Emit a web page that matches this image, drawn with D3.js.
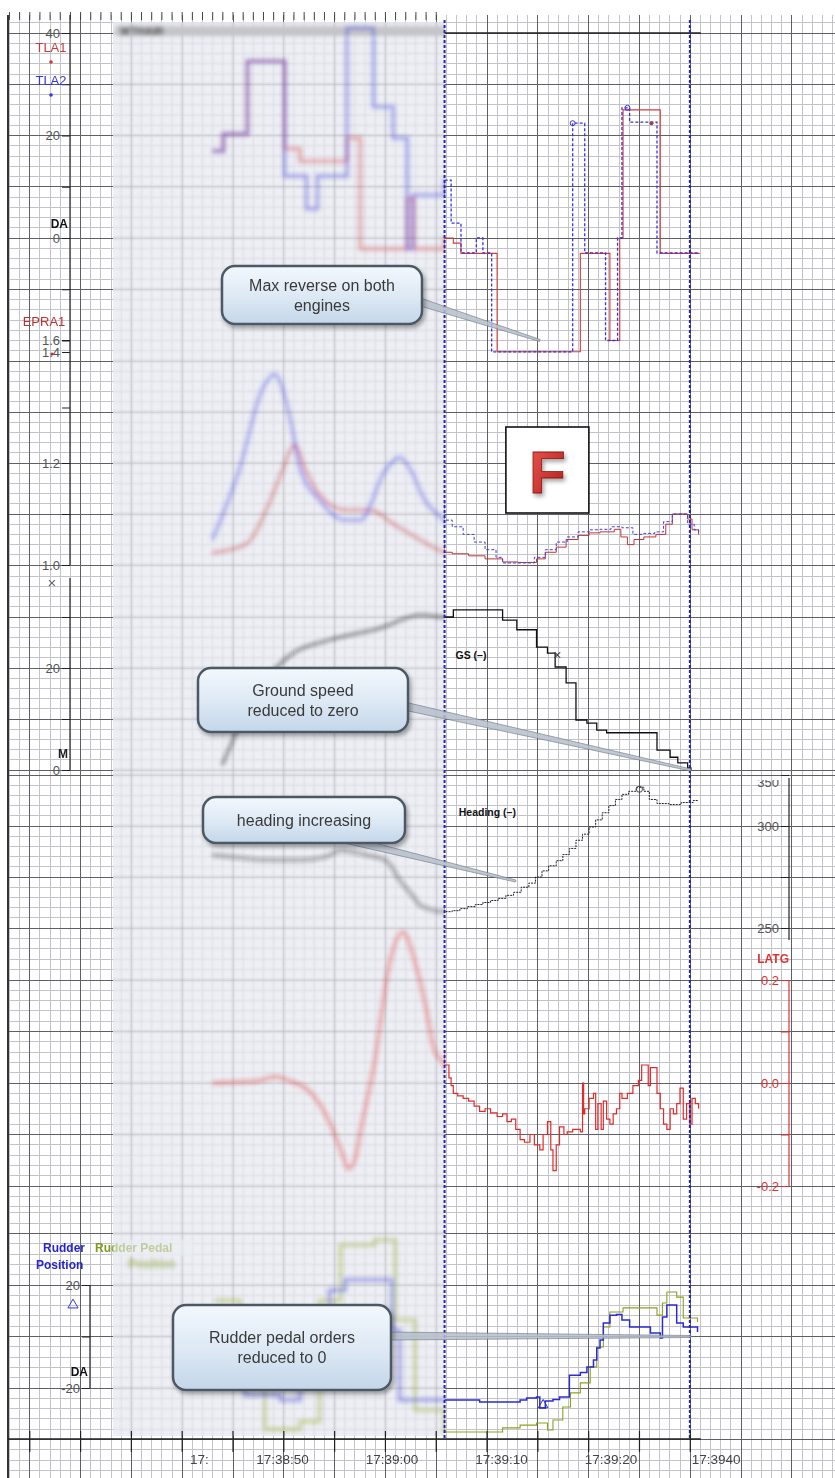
<!DOCTYPE html>
<html>
<head>
<meta charset="utf-8">
<script src="https://cdn.jsdelivr.net/npm/d3@7/dist/d3.min.js"></script>
<style>
  body { margin: 0; background: #fff; }
  svg text { font-family: 'Liberation Sans', Arial, sans-serif; }
</style>
</head>
<body>
<div id="chart"></div>
<script>
// time = seconds after 17:38:40
const timeTicks = [2.4, 10, 20, 30, 40, 49.6];
const timeLabels = ['17:', '17:38:50', '17:39:00', '17:39:10', '17:39:20', '17:3940'];
const cursorTimes = [24.8, 47.2];

// throttle lever angles (deg)
const tla1 = [[3.6,17],[4.6,20.3],[6.8,34.5],[10.2,17.4],[11.6,15],[15.9,19.5],[17.1,-2.1],[21.4,7.6],[22.0,-2.1],
  [24.8,0],[25.6,-1],[26.3,-3],[29.6,-22.2],[37.2,-3],[39.9,-20],[40.8,0],[41.1,25],[44.5,-3],[48.1,-3]];
const tla2 = [[3.6,17],[4.6,20.3],[6.8,34.5],[10.2,12.1],[12.2,5.7],[13.2,12.1],[15.9,41],[18.3,25.6],[20.1,19.5],
  [21.4,-2.1],[21.9,8.4],[24.8,11.3],[25.4,2.9],[26.3,-2.9],[27.7,0],[28.3,-2.9],[29.1,-22.2],[36.5,22.4],
  [37.6,-2.9],[39.5,-20],[40.6,0],[41.0,25.4],[41.7,22.6],[44.2,-2.9],[48.1,-2.9]];

// engine pressure ratios
const epr1 = [[3.6,1.024],[6.6,1.04],[8.9,1.127],[10,1.186],[11.1,1.232],[12.1,1.186],[13.4,1.137],[15.7,1.108],
  [18,1.108],[20.3,1.078],[22.6,1.049],[24.8,1.025],[25.5,1.022],[27,1.018],[28.5,1.012],[30.1,1.006],[31.5,1.005],
  [33.2,1.012],[34,1.025],[35,1.035],[35.9,1.05],[37,1.058],[38,1.063],[39,1.065],[40.3,1.07],[40.9,1.055],
  [41.5,1.04],[42.1,1.05],[43,1.055],[44.1,1.06],[45,1.08],[45.6,1.10],[46.2,1.10],[47,1.09],[47.4,1.069],[48,1.06]];
const epr2 = [[3.6,1.05],[6.1,1.19],[8.1,1.33],[9.3,1.36],[10.7,1.28],[11.6,1.19],[13.4,1.127],[15.7,1.088],
  [17.1,1.088],[19.4,1.186],[20.7,1.21],[21.6,1.19],[23,1.127],[24.8,1.088],[25.5,1.075],[26.5,1.06],[27.5,1.045],
  [28.5,1.03],[29.5,1.015],[30.1,1.004],[32,1.004],[33,1.015],[34,1.03],[35,1.045],[36,1.055],[37,1.065],
  [38,1.069],[39,1.07],[40,1.075],[41,1.073],[42,1.06],[43,1.062],[44,1.065],[44.8,1.085],[45.6,1.10],
  [46.2,1.10],[47,1.08],[47.6,1.069],[48,1.06]];

// ground speed (kt)
const groundSpeed = [[4.5,1],[5.5,6],[7,13.7],[8.4,17.6],[10.7,22.5],[14.3,25.5],[18.9,27.8],[22.6,30.4],[24.8,30],
  [25.6,31.4],[30.1,29.4],[31.4,27.5],[33.2,24.1],[34.2,22.9],[34.9,20.2],[35.9,17.1],[36.8,9.8],[37.8,9.2],
  [38.7,7.8],[39.6,7.3],[44.2,3.9],[45.4,2.5],[46.1,1.4],[47,0.4],[47.3,0]];

// heading (deg)
const heading = [[3.6,285.8],[6,284.5],[8,283.5],[11.6,283.3],[14,285],[15.3,288],[17.5,286],[19.5,283],
  [20.7,273.5],[22,265],[22.6,261],[24.8,258],[25.5,258.5],[26.2,259.5],[26.9,260.5],[27.6,261.5],[28.3,262.5],
  [29,263.5],[29.7,264.5],[30.4,266],[31.1,267.5],[31.8,270],[32.5,272],[33.1,275],[33.7,278],[34.3,280.5],
  [35,283],[35.6,286],[36.2,289],[36.8,293],[37.4,296],[38,299.5],[38.6,303],[39.2,306.5],[39.8,310],[40.4,313],
  [41,315.5],[41.6,317],[42.3,319],[43,317],[43.5,313],[44.2,311],[45.3,310.5],[46.4,311.5],[47.5,312.5],[48,312.5]];

// lateral acceleration (g)
const latg = [[3.6,0],[6,0.002],[8,0.005],[9.3,0.012],[10.7,0.004],[12.5,-0.017],[14.3,-0.076],[15.5,-0.14],
  [16,-0.167],[16.6,-0.15],[17.1,-0.095],[18.4,0.04],[19.8,0.235],[21,0.293],[22.1,0.235],[23,0.157],[23.9,0.062],
  [24.8,0.035],[25.2,0.01],[25.4,-0.005],[25.6,-0.02],[26.0,-0.025],[26.5,-0.03],[27.0,-0.035],[27.5,-0.045],
  [28,-0.055],[28.5,-0.05],[29,-0.058],[29.6,-0.065],[30.1,-0.06],[30.5,-0.075],[30.9,-0.07],[31.3,-0.09],
  [31.7,-0.11],[32.1,-0.115],[32.6,-0.1],[33,-0.12],[33.5,-0.13],[33.8,-0.1],[34.2,-0.075],[34.5,-0.13],
  [34.7,-0.17],[35,-0.12],[35.3,-0.085],[35.7,-0.1],[36,-0.095],[36.5,-0.09],[37.2,-0.095],[37.4,0.0],
  [37.5,-0.06],[37.6,-0.05],[38.0,-0.03],[38.4,-0.02],[38.6,-0.09],[38.8,-0.04],[39.1,-0.09],[39.3,-0.035],
  [39.6,-0.07],[39.9,-0.08],[40.2,-0.06],[40.5,-0.05],[40.8,-0.02],[41,-0.03],[41.5,-0.02],[42,-0.005],
  [42.5,0.005],[42.8,0.035],[43.1,0.035],[43.4,-0.005],[43.6,0.03],[43.9,0.03],[44.2,-0.02],[44.5,-0.05],
  [44.8,-0.08],[45.1,-0.09],[45.4,-0.05],[45.7,-0.06],[46,-0.04],[46.3,-0.01],[46.6,-0.07],[46.9,-0.04],
  [47.2,-0.08],[47.4,-0.03],[47.7,-0.04],[48,-0.05]];

// rudder (deg)
const rudderPos = [[3.8,-1.4],[6.6,-22.7],[9.8,-24.7],[11.6,-1.4],[14.3,18],[15.7,22],[18.9,22],[20,2.5],
  [20.7,-24.7],[24.8,-24.7],[28,-25.4],[31.7,-24.7],[32.3,-23.9],[33.2,-23.5],[33.5,-27.8],[34,-25],[34.7,-24.5],
  [35.3,-23.5],[36.2,-15],[37.2,-14],[37.8,-11.8],[38.4,-9.1],[38.7,-4.5],[39,-1.4],[39.3,5.2],[39.9,8.3],
  [40.5,8.5],[41,6.4],[41.7,3.7],[43.6,1.4],[44.5,-0.6],[44.7,7.6],[45.1,12.2],[46,5.2],[46.6,3.7],[47.9,1.7]];
const rudderPedal = [[3.8,14],[6.1,-20],[8.4,-36],[11.6,-33],[13.4,14],[15.3,35.5],[18.4,37.5],[20.3,6.4],
  [22.1,-28.5],[24.8,-37.1],[29.6,-37.1],[30.1,-35.5],[31.7,-34.4],[33.2,-33.6],[34.2,-36.3],[34.7,-32.4],
  [35.6,-27.4],[36.3,-21.9],[37.2,-18],[38.1,-11.8],[38.7,-4.1],[39.3,3.7],[39.9,9.5],[41.1,11.1],[42.6,11.1],
  [44.2,8.3],[44.7,13],[45.1,17.3],[46,15.3],[46.6,7.2],[47.9,5.6]];

const tlaTicks = [-20, -10, 0, 10, 20, 30, 40], tlaLabels = [0, 20, 40];
const eprTicks = [1.0, 1.1, 1.2, 1.3, 1.4, 1.6], eprLabels = [1.0, 1.2, 1.4, 1.6];
const gsTicks = [0, 10, 20, 30], gsLabels = [0, 20];
const hdgTicks = [250, 275, 300, 325], hdgLabels = [250, 300];
const latgTicks = [-0.2, -0.1, 0, 0.1, 0.2], latgLabels = [-0.2, 0, 0.2];
const rudTicks = [-20, 0, 20], rudLabels = [-20, 20];

const W = 835, H = 1478;
const x = d3.scaleLinear().domain([0, 50]).range([173, 720.5]);
const yTla = d3.scaleLinear().domain([0, 40]).range([238, 33]);
const yEpr = d3.scaleLinear().domain([1.0, 1.2, 1.4, 1.6]).range([565, 463, 352, 340]);
const yEprGrid = d3.scaleLinear().domain([1.0, 1.2]).range([565, 463]);
const yGs = d3.scaleLinear().domain([0, 20]).range([770, 668]);
const yHdg = d3.scaleLinear().domain([250, 300]).range([928, 826]);
const yLatg = d3.scaleLinear().domain([-0.2, 0.2]).range([1186, 980]);
const yRud = d3.scaleLinear().domain([-20, 20]).range([1388, 1285]);

const gridAnchor = 28.68, gridMinor = 0.928;
const gridBands = [
  { scale: yTla, top: 15, bottom: 340, minor: 2 },
  { scale: yEprGrid, top: 340, bottom: 575, minor: 0.02 },
  { scale: yGs, top: 575, bottom: 775, minor: 2 },
  { scale: yHdg, top: 775, bottom: 955, minor: 5 },
  { scale: yLatg, top: 955, bottom: 1210, minor: 0.02 },
  { scale: yRud, top: 1210, bottom: H, minor: 4 },
];
const oldRegion = { left: 113, top: 22, bottom: 1436 };
const axisY = 1439;

// plain hyphen for negatives, like the recorder printout
const hyphen = f => v => (v < 0 ? '-' : '') + f(Math.abs(v));

const svg = d3.select('#chart').append('svg').attr('width', W).attr('height', H);
const defs = svg.append('defs');
defs.append('filter').attr('id', 'blur').attr('x', '-10%').attr('y', '-10%').attr('width', '120%').attr('height', '120%')
  .append('feGaussianBlur').attr('stdDeviation', 1.9);
defs.append('filter').attr('id', 'blurSoft')
  .append('feGaussianBlur').attr('stdDeviation', 1.1);
defs.append('filter').attr('id', 'shadow').attr('x', '-10%').attr('y', '-10%').attr('width', '130%').attr('height', '140%')
  .append('feDropShadow').attr('dx', 2).attr('dy', 3).attr('stdDeviation', 2)
  .attr('flood-color', '#000').attr('flood-opacity', 0.35);
const boxGrad = defs.append('linearGradient').attr('id', 'boxFill').attr('x1', 0).attr('y1', 0).attr('x2', 0).attr('y2', 1);
boxGrad.append('stop').attr('offset', '0%').attr('stop-color', '#f3f8fd');
boxGrad.append('stop').attr('offset', '55%').attr('stop-color', '#dce8f4');
boxGrad.append('stop').attr('offset', '100%').attr('stop-color', '#c3d6e9');
const fGrad = defs.append('linearGradient').attr('id', 'fFill').attr('x1', 0).attr('y1', 0).attr('x2', 1).attr('y2', 1);
fGrad.append('stop').attr('offset', '0%').attr('stop-color', '#f05a50');
fGrad.append('stop').attr('offset', '100%').attr('stop-color', '#a81818');

const cutX = x(cursorTimes[0]);
defs.append('clipPath').attr('id', 'clipOld').append('rect')
  .attr('x', oldRegion.left).attr('y', oldRegion.top)
  .attr('width', cutX - oldRegion.left).attr('height', oldRegion.bottom - oldRegion.top);
defs.append('clipPath').attr('id', 'clipNew').append('rect')
  .attr('x', cutX).attr('y', 0).attr('width', W - cutX).attr('height', H);
defs.append('clipPath').attr('id', 'clipHdgTop').append('rect')
  .attr('x', 700).attr('y', 780).attr('width', 100).attr('height', 30);

svg.append('rect').attr('width', W).attr('height', H).attr('fill', '#fff');

const mod5 = k => ((k % 5) + 5) % 5 === 0;

function gridLines() {
  const k0 = Math.ceil((x.invert(8) - gridAnchor) / gridMinor);
  const k1 = Math.floor((x.invert(W) - gridAnchor) / gridMinor);
  const vert = d3.range(k0, k1 + 1).map(k => ({ x: x(gridAnchor + k * gridMinor), major: mod5(k) }));
  const horiz = gridBands.flatMap(b => {
    const a = b.scale.invert(b.top), c = b.scale.invert(b.bottom);
    const lo = Math.min(a, c), hi = Math.max(a, c);
    return d3.range(Math.ceil(lo / b.minor - 1e-6), Math.floor(hi / b.minor + 1e-6) + 1)
      .map(k => ({ y: b.scale(k * b.minor), major: mod5(k) }));
  });
  return { vert, horiz };
}

function drawGrid(g) {
  const { vert, horiz } = gridLines();
  [false, true].forEach(major => {
    const stroke = major ? '#5f5f66' : '#c3c3cc';
    g.append('g').selectAll('line').data(vert.filter(d => d.major === major)).join('line')
      .attr('x1', d => d.x).attr('x2', d => d.x).attr('y1', 15).attr('y2', H)
      .attr('stroke', stroke).attr('stroke-width', 1);
    g.append('g').selectAll('line').data(horiz.filter(d => d.major === major)).join('line')
      .attr('x1', 8).attr('x2', W).attr('y1', d => d.y).attr('y2', d => d.y)
      .attr('stroke', stroke).attr('stroke-width', 1);
  });
}

const grid = svg.append('g').attr('shape-rendering', 'crispEdges');
drawGrid(grid);
grid.append('line').attr('x1', 8).attr('x2', 8).attr('y1', 15).attr('y2', H).attr('stroke', '#333').attr('stroke-width', 2);

// top ruler ticks
const { vert } = gridLines();
svg.append('g').selectAll('line').data(vert.filter(d => d.x < cutX)).join('line')
  .attr('x1', d => d.x).attr('x2', d => d.x).attr('y1', 12).attr('y2', 20)
  .attr('stroke', '#444').attr('stroke-width', 1);

// faded earlier section
svg.append('rect')
  .attr('x', oldRegion.left).attr('y', oldRegion.top)
  .attr('width', cutX - oldRegion.left).attr('height', oldRegion.bottom - oldRegion.top)
  .attr('fill', '#eceef3').attr('opacity', 0.93);
const ghostGrid = svg.append('g').attr('clip-path', 'url(#clipOld)')
  .append('g').attr('filter', 'url(#blurSoft)').attr('opacity', 0.38);
drawGrid(ghostGrid);

const oldLayer = svg.append('g').attr('clip-path', 'url(#clipOld)')
  .append('g').attr('filter', 'url(#blur)');
oldLayer.append('rect').attr('x', oldRegion.left + 2).attr('y', 26).attr('width', cutX - oldRegion.left).attr('height', 10)
  .attr('fill', '#c4c4c8');
oldLayer.append('text').attr('x', 120).attr('y', 35).attr('font-size', 11).attr('font-weight', 'bold')
  .attr('fill', '#333').text('WTHAIR');

const newLayer = svg.append('g').attr('clip-path', 'url(#clipNew)');

const series = [
  { data: tla1, y: yTla, color: '#d23a3a', width: 1.1, dash: null, oldCurve: d3.curveStepAfter },
  { data: tla2, y: yTla, color: '#3535dc', width: 1.3, dash: '3,2', oldCurve: d3.curveStepAfter },
  { data: epr1, y: yEpr, color: '#c03535', width: 1, dash: null, oldCurve: d3.curveMonotoneX },
  { data: epr2, y: yEpr, color: '#3f3fe0', width: 1, dash: '3,2', oldCurve: d3.curveMonotoneX },
  { data: groundSpeed, y: yGs, color: '#111', width: 1.3, dash: null, oldCurve: d3.curveMonotoneX },
  { data: heading, y: yHdg, color: '#222', width: 1, dash: '2,1', oldCurve: d3.curveMonotoneX },
  { data: latg, y: yLatg, color: '#e22a2a', width: 1.2, dash: null, oldCurve: d3.curveMonotoneX },
  { data: rudderPedal, y: yRud, color: '#8ca21c', width: 1.1, dash: null, oldCurve: d3.curveStepAfter },
  { data: rudderPos, y: yRud, color: '#2b2bd0', width: 1.5, dash: null, oldCurve: d3.curveStepAfter },
];

series.forEach(s => {
  oldLayer.append('path').datum(s.data)
    .attr('d', d3.line().x(d => x(d[0])).y(d => s.y(d[1])).curve(s.oldCurve))
    .attr('fill', 'none').attr('stroke', s.color).attr('stroke-width', 3.5).attr('opacity', 0.4);
  newLayer.append('path').datum(s.data)
    .attr('d', d3.line().x(d => x(d[0])).y(d => s.y(d[1])).curve(d3.curveStepAfter))
    .attr('fill', 'none').attr('stroke', s.color).attr('stroke-width', s.width)
    .attr('stroke-dasharray', s.dash);
});

// line markers
newLayer.append('circle').attr('cx', x(36.5)).attr('cy', yTla(22.4)).attr('r', 2.5).attr('fill', 'none').attr('stroke', '#3535dc');
newLayer.append('circle').attr('cx', x(41.5)).attr('cy', yTla(25.4)).attr('r', 2.5).attr('fill', 'none').attr('stroke', '#3535dc');
newLayer.append('circle').attr('cx', x(43.7)).attr('cy', yTla(22.4)).attr('r', 2).attr('fill', '#a04040');
newLayer.append('text').attr('x', x(35.1)).attr('y', yGs(22.5) + 5).attr('text-anchor', 'middle')
  .attr('font-size', 14).attr('fill', '#444').text('×');
newLayer.append('circle').attr('cx', x(42.6)).attr('cy', yHdg(318)).attr('r', 3).attr('fill', 'none').attr('stroke', '#444');
newLayer.append('path').attr('d', d3.symbol(d3.symbolTriangle, 40)())
  .attr('transform', `translate(${x(33.8)},${yRud(-26.6)})`).attr('fill', 'none').attr('stroke', '#2b2bd0');

newLayer.append('text').attr('x', x(25.8)).attr('y', yGs(22.5) + 4).attr('font-size', 10.5)
  .attr('font-weight', 'bold').attr('fill', '#111').text('GS (–)');
newLayer.append('text').attr('x', x(26.1)).attr('y', yHdg(307) + 4).attr('font-size', 10.5)
  .attr('font-weight', 'bold').attr('fill', '#111').text('Heading (–)');

// axes
function drawAxis({ scale, at, ticks, labels, color = '#555', lineColor = '#222', from, to, fmt = hyphen(d3.format('')) }) {
  const has = v => labels.some(l => Math.abs(l - v) < 1e-9);
  const axis = d3.axisLeft(scale).tickValues(ticks).tickSize(8).tickPadding(2)
    .tickFormat(v => has(v) ? fmt(v) : '');
  const g = svg.append('g').attr('transform', `translate(${at},0)`).call(axis);
  g.select('.domain').remove();
  g.selectAll('.tick line').attr('stroke', lineColor);
  g.selectAll('.tick text').attr('fill', color).attr('font-size', 13)
    .attr('font-family', "'Liberation Sans', Arial, sans-serif");
  g.append('line').attr('x1', 0).attr('x2', 0).attr('y1', from).attr('y2', to)
    .attr('stroke', lineColor).attr('stroke-width', 1.2);
  return g;
}

drawAxis({ scale: yTla, at: 70, ticks: tlaTicks, labels: tlaLabels, from: 15, to: 340 });
drawAxis({ scale: yEpr, at: 70, ticks: eprTicks, labels: eprLabels, from: 340, to: 565, fmt: d3.format('.1f') });
drawAxis({ scale: yGs, at: 70, ticks: gsTicks, labels: gsLabels, from: 578, to: 770 });
drawAxis({ scale: yHdg, at: 789, ticks: hdgTicks, labels: hdgLabels, from: 778, to: 940 });
drawAxis({ scale: yLatg, at: 789, ticks: latgTicks, labels: latgLabels, color: '#e23030', lineColor: '#e23030',
  from: 980, to: 1186, fmt: hyphen(d3.format('.1f')) });
drawAxis({ scale: yRud, at: 90, ticks: rudTicks, labels: rudLabels, from: 1285, to: 1388 });

svg.append('text').attr('clip-path', 'url(#clipHdgTop)').attr('x', 779).attr('y', 787)
  .attr('text-anchor', 'end').attr('font-size', 13).attr('fill', '#555').text('350');

const label = (tx, ty, text, fill, opts = {}) => svg.append('text').attr('x', tx).attr('y', ty)
  .attr('text-anchor', opts.anchor || 'middle').attr('font-size', opts.size || 13)
  .attr('font-weight', opts.bold ? 'bold' : 'normal').attr('fill', fill).text(text);

label(51, 52, 'TLA1', '#c83a3a');
svg.append('circle').attr('cx', 51).attr('cy', 62).attr('r', 1.8).attr('fill', '#c83a3a');
label(51, 85, 'TLA2', '#3535dc');
svg.append('circle').attr('cx', 51).attr('cy', 95).attr('r', 1.8).attr('fill', '#3535dc');
label(68, 228, 'DA', '#111', { anchor: 'end', bold: true, size: 12 });
label(44, 326, 'EPRA1', '#b83232');
svg.append('circle').attr('cx', 52).attr('cy', 354).attr('r', 1.6).attr('fill', '#b83232');
label(52, 588, '×', '#666', { size: 15 });
label(68, 758, 'M', '#222', { anchor: 'end', bold: true, size: 12 });
label(789, 963, 'LATG', '#e23030', { anchor: 'end', bold: true, size: 12 });
label(43, 1252, 'Rudder', '#2626c8', { anchor: 'start', bold: true, size: 12 });
label(36, 1269, 'Position', '#2626c8', { anchor: 'start', bold: true, size: 12 });
label(88, 1376, 'DA', '#111', { anchor: 'end', bold: true, size: 12 });
svg.append('path').attr('d', d3.symbol(d3.symbolTriangle, 45)())
  .attr('transform', 'translate(73,1305)').attr('fill', 'none').attr('stroke', '#3a3ad8');
svg.append('text').attr('x', 95).attr('y', 1252).attr('font-size', 12).attr('font-weight', 'bold')
  .attr('fill', '#7d9a1e').text('Rudder Pedal');
svg.append('text').attr('x', 128).attr('y', 1268).attr('font-size', 12).attr('font-weight', 'bold')
  .attr('fill', '#7d9a1e').attr('filter', 'url(#blur)').attr('opacity', 0.6).text('Position');
// fade the pedal label where it sits over the old section
svg.append('rect').attr('x', oldRegion.left).attr('y', 1240).attr('width', 80).attr('height', 16)
  .attr('fill', '#eceef3').attr('opacity', 0.6).attr('filter', 'url(#blurSoft)');

// cursors and top border
svg.append('line').attr('x1', cutX).attr('x2', x(48.2)).attr('y1', yTla(40)).attr('y2', yTla(40))
  .attr('stroke', '#222').attr('stroke-width', 1.6);
svg.append('g').selectAll('line').data(cursorTimes).join('line')
  .attr('x1', d => x(d)).attr('x2', d => x(d)).attr('y1', 20).attr('y2', axisY)
  .attr('stroke', '#2424a6').attr('stroke-width', 2).attr('stroke-dasharray', '3,2');

// time axis
svg.append('line').attr('x1', 8).attr('x2', x(48.2)).attr('y1', axisY).attr('y2', axisY)
  .attr('stroke', '#222').attr('stroke-width', 1.4);
svg.append('g').selectAll('line').data(vert.filter(d => d.major && d.x < x(48.5))).join('line')
  .attr('x1', d => d.x).attr('x2', d => d.x).attr('y1', axisY - 8).attr('y2', axisY + 13)
  .attr('stroke', '#222').attr('stroke-width', 1.2);
svg.append('g').selectAll('text').data(timeTicks).join('text')
  .attr('x', d => x(d)).attr('y', axisY + 25).attr('text-anchor', 'middle')
  .attr('font-size', 13.5).attr('fill', '#444').text((d, i) => timeLabels[i]);

// callouts
const callouts = [
  { lines: ['Max reverse on both', 'engines'], box: [222, 266, 200, 58], from: [414, 300], at: [33.5, -20], y: yTla },
  { lines: ['Ground speed', 'reduced to zero'], box: [198, 668, 210, 64], from: [404, 706], at: [47.3, 0], y: yGs },
  { lines: ['heading increasing'], box: [203, 797, 202, 46], from: [340, 838], at: [31.3, 273], y: yHdg },
  { lines: ['Rudder pedal orders', 'reduced to 0'], box: [173, 1305, 218, 85], from: [388, 1336], at: [47.3, 0], y: yRud },
];

function wedge([x0, y0], [x1, y1], w0, w1) {
  const dx = x1 - x0, dy = y1 - y0, len = Math.hypot(dx, dy);
  const nx = -dy / len, ny = dx / len;
  return [[x0 + nx * w0, y0 + ny * w0], [x1 + nx * w1, y1 + ny * w1],
    [x1 - nx * w1, y1 - ny * w1], [x0 - nx * w0, y0 - ny * w0]];
}

const co = svg.append('g');
callouts.forEach(c => {
  const target = [x(c.at[0]), c.y(c.at[1])];
  co.append('path').attr('d', d3.line()(wedge(c.from, target, 4, 1)) + 'Z')
    .attr('fill', '#b5bfca').attr('stroke', '#737e8a').attr('stroke-width', 0.8).attr('opacity', 0.85);
  const [bx, by, bw, bh] = c.box;
  co.append('rect').attr('x', bx).attr('y', by).attr('width', bw).attr('height', bh)
    .attr('rx', 13).attr('fill', 'url(#boxFill)').attr('stroke', '#4e5965').attr('stroke-width', 2.5)
    .attr('filter', 'url(#shadow)');
  co.append('g').selectAll('text').data(c.lines).join('text')
    .attr('x', bx + bw / 2)
    .attr('y', (d, i) => by + bh / 2 + (i - (c.lines.length - 1) / 2) * 20 + 5.5)
    .attr('text-anchor', 'middle').attr('font-size', 16).attr('fill', '#3a3a3a').text(d => d);
});

// event marker
const fx = x(30.4), fy = yEpr(1.2) - 36;
svg.append('rect').attr('x', fx).attr('y', fy).attr('width', 83).attr('height', 86)
  .attr('fill', '#fff').attr('stroke', '#111').attr('stroke-width', 1.6);
svg.append('text').attr('x', fx + 41.5).attr('y', fy + 66).attr('text-anchor', 'middle')
  .attr('font-size', 60).attr('font-weight', 'bold').attr('fill', 'url(#fFill)')
  .attr('stroke', '#8a1414').attr('stroke-width', 0.8).attr('filter', 'url(#shadow)').text('F');
</script>
</body>
</html>
